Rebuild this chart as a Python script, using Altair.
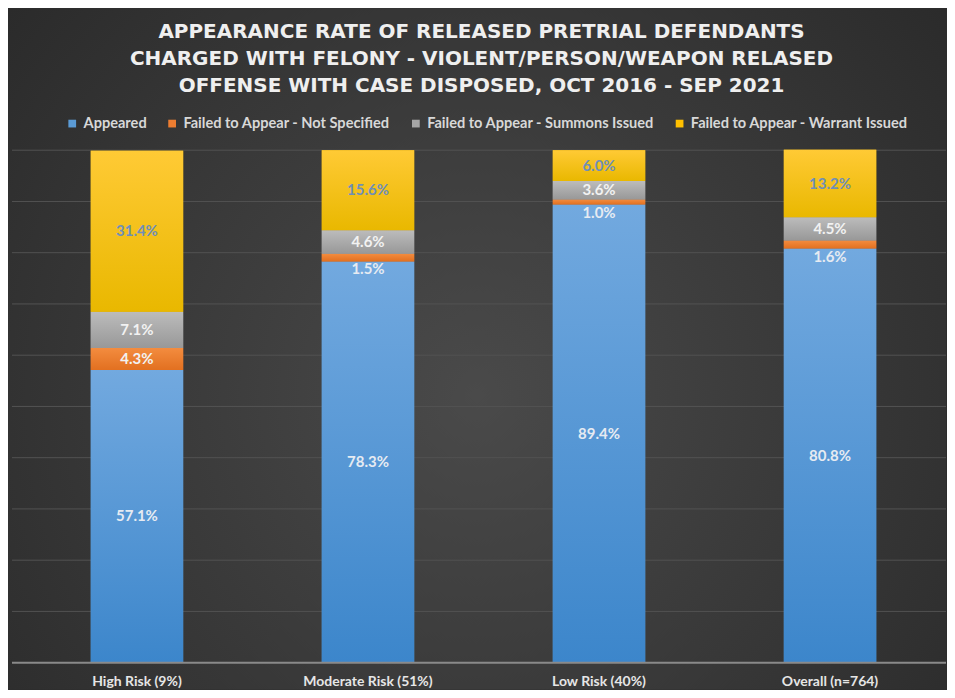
import altair as alt
import pandas as pd

categories = ["High Risk (9%)", "Moderate Risk (51%)", "Low Risk (40%)", "Overall (n=764)"]
series = [
    "Appeared",
    "Failed to Appear - Not Specified",
    "Failed to Appear - Summons Issued",
    "Failed to Appear - Warrant Issued",
]
appeared = [57.1, 78.3, 89.4, 80.8]
not_specified = [4.3, 1.5, 1.0, 1.6]
summons = [7.1, 4.6, 3.6, 4.5]
warrant = [31.4, 15.6, 6.0, 13.2]
grid_values = [10, 20, 30, 40, 50, 60, 70, 80, 90, 100]
baseline_value = [0]
colors = ["#5b9bd5", "#ed7d31", "#a5a5a5", "#ffc000"]
grad_top = ["#72a9df", "#f38c3f", "#bcbcbc", "#ffca35"]
grad_bot = ["#3c86cb", "#e27020", "#989898", "#e9b800"]
title_lines = [
    "APPEARANCE RATE OF RELEASED PRETRIAL DEFENDANTS",
    "CHARGED WITH FELONY - VIOLENT/PERSON/WEAPON RELASED",
    "OFFENSE WITH CASE DISPOSED, OCT 2016 - SEP 2021",
]

rows = []
for i, c in enumerate(categories):
    start = 0.0
    for s, vals in zip(series, [appeared, not_specified, summons, warrant]):
        v = vals[i]
        rows.append(dict(category=c, series=s, value=v, start=start, end=start + v,
                         mid=start + v / 2, label=f"{v:.1f}%"))
        start += v
df = pd.DataFrame(rows)

W, H = 926, 513
LEFT, TOP = 13, 142
FONT = "Lato"

xenc = alt.X("category:N", sort=categories, title=None,
             scale=alt.Scale(paddingInner=0.6, paddingOuter=0.302),
             axis=alt.Axis(labelAngle=0, labelColor="#e6e6e6", labelFont=FONT,
                           labelFontWeight="bold", labelFontSize=14, labelPadding=12,
                           ticks=False, domain=False, grid=False, zindex=1))
yscale = alt.Scale(domain=[0, 100], nice=False)

bg = alt.Chart(pd.DataFrame({"a": [0]})).mark_rect(
    color=alt.Gradient(gradient="radial",
                       stops=[alt.GradientStop(color="#4a4a4a", offset=0),
                              alt.GradientStop(color="#262626", offset=1)],
                       x1=0.5, y1=0.55, r1=0, x2=0.5, y2=0.55, r2=0.75)
).encode(x=alt.value(-LEFT), x2=alt.value(939 - LEFT), y=alt.value(-TOP), y2=alt.value(682 - TOP))

grid = alt.Chart(pd.DataFrame({"g": grid_values})).mark_rule(color="#525252", strokeWidth=1).encode(
    y=alt.Y("g:Q", scale=yscale, axis=None), x=alt.value(-9), x2=alt.value(W)
)
domain_rule = alt.Chart(pd.DataFrame({"g": baseline_value})).mark_rule(color="#8a8a8a", strokeWidth=2).encode(
    y=alt.Y("g:Q", scale=yscale, axis=None), x=alt.value(-9), x2=alt.value(W)
)

title_layers = []
for line, yv in zip(title_lines, [-118, -91, -64.5]):
    title_layers.append(
        alt.Chart(pd.DataFrame({"t": [line]})).mark_text(
            font="DejaVu Sans", fontWeight="bold", fontSize=20, color="#efefef",
            align="center", baseline="middle"
        ).encode(text="t:N", x=alt.value(461), y=alt.value(yv))
    )

base = alt.Chart(df).encode(x=xenc)

bars = base.mark_bar().encode(
    y=alt.Y("start:Q", scale=yscale, axis=None),
    y2="end:Q",
    color=alt.Color("series:N", sort=series,
                    scale=alt.Scale(domain=series, range=colors),
                    legend=alt.Legend(orient="none", legendX=44, legendY=-34, direction="horizontal",
                                      title=None, symbolType="square", symbolSize=60,
                                      symbolStrokeWidth=0, labelColor="#d8d8d8", labelFont=FONT,
                                      labelFontWeight="bold", labelFontSize=14.6, columnPadding=18,
                                      symbolOffset=0, labelOffset=4, labelLimit=0)),
)

grad_layers = []
for s, t, b in zip(series, grad_top, grad_bot):
    grad_layers.append(
        base.mark_bar(color=alt.Gradient(gradient="linear",
                                         stops=[alt.GradientStop(color=t, offset=0),
                                                alt.GradientStop(color=b, offset=1)],
                                         x1=0, y1=0, x2=0, y2=1)).encode(
            y=alt.Y("start:Q", scale=yscale, axis=None), y2="end:Q"
        ).transform_filter(alt.datum.series == s)
    )

label_colors = ["#e6ebf2", "#f2f2f2", "#f2f2f2", "#6f8fb8"]
text_layers = []
for s, col in zip(series, label_colors):
    text_layers.append(
        base.mark_text(font=FONT, fontWeight="bold", fontSize=15, color=col, baseline="middle").encode(
            y=alt.Y("mid:Q", scale=yscale, axis=None), text="label:N"
        ).transform_filter((alt.datum.series == s) & (alt.datum.value >= 2))
    )
text_layers.append(
    base.mark_text(font=FONT, fontWeight="bold", fontSize=15, color="#e6ebf2", baseline="top", dy=1).encode(
        y=alt.Y("start:Q", scale=yscale, axis=None), text="label:N"
    ).transform_filter(alt.datum.value < 2)
)

chart = alt.layer(bg, grid, *title_layers, bars, *grad_layers, domain_rule, *text_layers).properties(
    width=W, height=H, padding=0,
).configure(background="#2c2c2c").configure_view(stroke=None)

chart.save("out.html", embed_options={"renderer": "svg", "actions": False})
